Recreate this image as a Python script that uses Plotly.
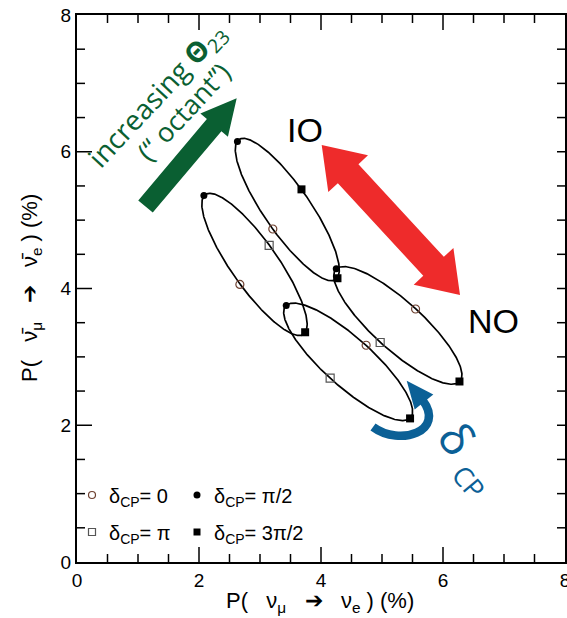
import numpy as np
import plotly.graph_objects as go

# ---------------- figure geometry ----------------
W, H = 567, 618
ML, MR, MT, MB = 77, 2, 15, 56
X_RANGE = [0, 8]
Y_RANGE = [0, 8]
MAJOR_STEP, MINOR_STEP = 2, 0.5

# ---------------- data ----------------
DELTA_CP_LABELS = ["0", "π/2", "π", "3π/2"]
# P(νμ→νe) [%] (x) and P(ν̄μ→ν̄e) [%] (y) at δCP = 0, π/2, π, 3π/2
io_lower_x = [2.67, 2.08, 3.15, 3.74]
io_lower_y = [4.06, 5.36, 4.63, 3.36]
io_upper_x = [3.21, 2.63, 3.68, 4.27]
io_upper_y = [4.87, 6.15, 5.45, 4.15]
no_lower_x = [4.74, 3.43, 4.15, 5.46]
no_lower_y = [3.17, 3.75, 2.69, 2.10]
no_upper_x = [5.55, 4.25, 4.97, 6.27]
no_upper_y = [3.70, 4.29, 3.21, 2.64]

symbols_default = ["circle-open", "circle", "square-open", "square"]
io_upper_symbols = ["circle-open", "circle", "square", "square"]

curves = [
    (io_lower_x, io_lower_y, symbols_default),
    (io_upper_x, io_upper_y, io_upper_symbols),
    (no_lower_x, no_lower_y, symbols_default),
    (no_upper_x, no_upper_y, symbols_default),
]

SYM_STYLE = {
    "circle-open": dict(color="#6e4030", size=8, line=dict(width=1.2, color="#6e4030")),
    "circle": dict(color="black", size=7),
    "square-open": dict(color="#555555", size=8, line=dict(width=1.2, color="#555555")),
    "square": dict(color="black", size=8),
}

# ---------------- helpers ----------------
PW = W - ML - MR
PH = H - MT - MB
XU = (X_RANGE[1] - X_RANGE[0]) / PW   # data units per pixel
YU = (Y_RANGE[1] - Y_RANGE[0]) / PH


def dx(px):
    return X_RANGE[0] + (px - ML) * XU


def dy(py):
    return Y_RANGE[0] + (H - MB - py) * YU


def px_paper(px):
    return (px - ML) / PW


def py_paper(py):
    return (H - MB - py) / PH


def ellipse(xs, ys, n=400):
    d = np.linspace(0, 2 * np.pi, n)
    cx, cy = np.mean(xs), np.mean(ys)
    ax, bx = (xs[0] - xs[2]) / 2, (xs[1] - xs[3]) / 2
    ay, by = (ys[0] - ys[2]) / 2, (ys[1] - ys[3]) / 2
    return cx + ax * np.cos(d) + bx * np.sin(d), cy + ay * np.cos(d) + by * np.sin(d)


def arrow_path(tail, tip, shaft_w, head_w, head_len, double=False):
    t = np.array(tail, float)
    p = np.array(tip, float)
    u = (p - t) / np.linalg.norm(p - t)
    n = np.array([-u[1], u[0]])
    b2 = p - u * head_len
    pts = []
    if double:
        b1 = t + u * head_len
        pts.append(b1 + n * shaft_w / 2)
    else:
        pts.append(t + n * shaft_w / 2)
    pts += [b2 + n * shaft_w / 2, b2 + n * head_w / 2, p, b2 - n * head_w / 2, b2 - n * shaft_w / 2]
    if double:
        pts += [b1 - n * shaft_w / 2, b1 - n * head_w / 2, t, b1 + n * head_w / 2]
    else:
        pts.append(t - n * shaft_w / 2)
    return "M " + " L ".join(f"{dx(x):.4f},{dy(y):.4f}" for x, y in pts) + " Z"


fig = go.Figure()

# ---------------- frame tick marks on all four sides (inside) ----------------
MAJOR_LEN, MINOR_LEN = 15, 8
TICK_W = 1.5


def is_major(v):
    return abs(v / MAJOR_STEP - round(v / MAJOR_STEP)) < 1e-9


tx, ty = [], []
for v in np.arange(X_RANGE[0] + MINOR_STEP, X_RANGE[1], MINOR_STEP):
    L = MAJOR_LEN if is_major(v) else MINOR_LEN
    tx += [v, v, None, v, v, None]
    ty += [Y_RANGE[0], Y_RANGE[0] + L * YU, None, Y_RANGE[1], Y_RANGE[1] - L * YU, None]
for v in np.arange(Y_RANGE[0] + MINOR_STEP, Y_RANGE[1], MINOR_STEP):
    L = MAJOR_LEN if is_major(v) else MINOR_LEN
    tx += [X_RANGE[0], X_RANGE[0] + L * XU, None, X_RANGE[1], X_RANGE[1] - MINOR_LEN * XU, None]
    ty += [v, v, None, v, v, None]
fig.add_trace(go.Scatter(x=tx, y=ty, mode="lines", line=dict(color="black", width=TICK_W),
                         showlegend=False, hoverinfo="skip", cliponaxis=False))

# ellipses
for xs, ys, _ in curves:
    ex, ey = ellipse(xs, ys)
    fig.add_trace(go.Scatter(x=ex, y=ey, mode="lines", line=dict(color="black", width=1.7),
                             showlegend=False, hoverinfo="skip"))

# markers
for xs, ys, syms in curves:
    for x, y, s in zip(xs, ys, syms):
        fig.add_trace(go.Scatter(x=[x], y=[y], mode="markers", marker=dict(symbol=s, **SYM_STYLE[s]),
                                 showlegend=False))

# ---------------- legend (manual, inside plot) ----------------
legend_rows = [(495, 0, 1), (532, 2, 3)]
legend_cols = [92, 197]
for row_y, i0, i1 in legend_rows:
    for col_x, idx in zip(legend_cols, (i0, i1)):
        s = symbols_default[idx]
        st = dict(SYM_STYLE[s])
        st["size"] = 7
        fig.add_trace(go.Scatter(x=[dx(col_x)], y=[dy(row_y)], mode="markers",
                                 marker=dict(symbol=s, **st), showlegend=False, hoverinfo="skip"))
        fig.add_annotation(x=px_paper(col_x + 15), y=py_paper(row_y), xref="paper", yref="paper",
                           text=f"δ<sub>CP</sub>= {DELTA_CP_LABELS[idx]}", showarrow=False,
                           xanchor="left", yanchor="middle", yshift=-2,
                           font=dict(family="Liberation Sans", size=20, color="black"))

# ---------------- arrows ----------------
GREEN = "#0a5f32"
RED = "#ee2b2b"
BLUE = "#0b6096"

shapes = []
shapes.append(dict(type="path", path=arrow_path((145.5, 206.5), (236.7, 98.3), 19, 36, 35),
                   fillcolor=GREEN, line=dict(width=0), xref="x", yref="y"))
shapes.append(dict(type="path", path=arrow_path((321.7, 145), (460, 295), 28, 54, 39, double=True),
                   fillcolor=RED, line=dict(width=0), xref="x", yref="y"))
# blue hook
P0, P1, P2, P3 = (373, 427), (400, 447), (446, 431), (422.5, 400)
hook = f"M {dx(P0[0])},{dy(P0[1])} C {dx(P1[0])},{dy(P1[1])} {dx(P2[0])},{dy(P2[1])} {dx(P3[0])},{dy(P3[1])}"
shapes.append(dict(type="path", path=hook, line=dict(color=BLUE, width=8.5),
                   fillcolor="rgba(0,0,0,0)", xref="x", yref="y"))
# blue arrow head (triangle)
t = np.array((424, 402.0)); p = np.array((406.7, 380.7))
u = (p - t) / np.linalg.norm(p - t); n = np.array([-u[1], u[0]])
tri = [t + n * 12, p, t - n * 12]
shapes.append(dict(type="path",
                   path="M " + " L ".join(f"{dx(a):.4f},{dy(b):.4f}" for a, b in tri) + " Z",
                   fillcolor=BLUE, line=dict(width=0), xref="x", yref="y"))

fig.update_layout(shapes=shapes)

# ---------------- text annotations ----------------
def ann(px, py, text, size, color, family, angle=0):
    fig.add_annotation(x=px_paper(px), y=py_paper(py), xref="paper", yref="paper", text=text,
                       showarrow=False, textangle=angle, xanchor="center", yanchor="middle",
                       font=dict(family=family, size=size, color=color))

ann(305, 130, "IO", 34, "black", "Liberation Sans")
ann(493, 321, "NO", 34, "black", "Liberation Sans")
ann(157, 96, "increasing <b>Θ</b><sub>23</sub>", 28, GREEN, "Open Sans", -47)
ann(183, 111, "(“ octant”)", 27, GREEN, "Open Sans", -47)
ann(458, 438, "δ", 46, BLUE, "Open Sans", 52)
ann(469, 481, "CP", 27, BLUE, "Open Sans", 50)

# axis titles
SP = "&nbsp;"
ann(320, 602, f"P({SP*2} ν<sub>μ</sub>{SP*2} ➔ {SP*2}ν<sub>e</sub> ) (%)", 22, "black", "Liberation Sans")
ann(31, 288, f"P({SP*2} ν̄<sub>μ</sub>{SP*2} ➔ {SP*2}ν̄<sub>e</sub> ) (%)", 22, "black", "Liberation Sans", -90)

axis_common = dict(
    dtick=MAJOR_STEP, tick0=0, ticks="",
    showline=True, linecolor="black", linewidth=2, showgrid=False, zeroline=False,
    mirror=True, automargin=False, ticklabeloverflow="allow",
    tickfont=dict(family="Liberation Sans", size=19, color="black"),
)
fig.update_layout(
    xaxis=dict(range=X_RANGE, **axis_common),
    yaxis=dict(range=Y_RANGE, **axis_common),
)

fig.update_layout(
    width=W, height=H, margin=dict(l=ML, r=MR, t=MT, b=MB, autoexpand=False),
    plot_bgcolor="white", paper_bgcolor="white", showlegend=False,
)

fig.write_html("out.html")
